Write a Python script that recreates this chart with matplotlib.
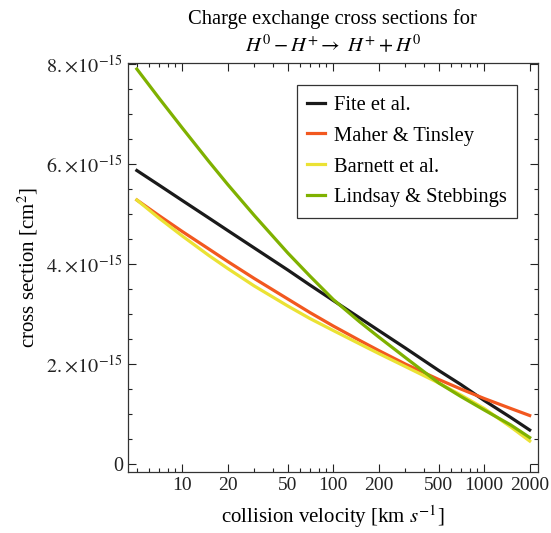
import matplotlib.pyplot as plt
from matplotlib.ticker import FixedLocator, FixedFormatter
import numpy as np

plt.rcParams['font.family'] = ['Liberation Serif', 'DejaVu Serif']
plt.rcParams['mathtext.fontset'] = 'stix'

# collision velocity [km/s]
velocity = [5, 7, 10, 15, 20, 30, 50, 70, 100, 150, 200, 300, 500, 700, 1000, 1500, 2000]
# cross sections in units of 1e-15 cm^2
fite = [5.87, 5.58, 5.27, 4.92, 4.67, 4.32, 3.88, 3.58, 3.27, 2.92, 2.67, 2.32, 1.87, 1.59, 1.27, 0.93, 0.68]
maher = [5.28, 4.97, 4.65, 4.30, 4.05, 3.71, 3.30, 3.03, 2.76, 2.47, 2.27, 2.00, 1.69, 1.50, 1.31, 1.11, 0.97]
barnett = [5.28, 4.92, 4.56, 4.17, 3.91, 3.56, 3.16, 2.91, 2.67, 2.40, 2.21, 1.95, 1.62, 1.38, 1.11, 0.74, 0.46]
lindsay = [7.90, 7.32, 6.72, 6.05, 5.59, 4.97, 4.22, 3.76, 3.29, 2.84, 2.54, 2.13, 1.62, 1.35, 1.08, 0.78, 0.53]

xticks = [10, 20, 50, 100, 200, 500, 1000, 2000]
yticks = [0, 2, 4, 6, 8]
ylabels = ['0', r'$2.\!\times\!10^{-15}$', r'$4.\!\times\!10^{-15}$',
           r'$6.\!\times\!10^{-15}$', r'$8.\!\times\!10^{-15}$']

fig = plt.figure(figsize=(5.51, 5.33), dpi=100)
ax = fig.add_axes([0.2318, 0.1144, 0.7446, 0.7674])

scale = 1e-15
ax.plot(velocity, np.array(fite) * scale, color='#1a1a1a', lw=2.3, label='Fite et al.')
ax.plot(velocity, np.array(maher) * scale, color='#F2581F', lw=2.3, label='Maher & Tinsley')
ax.plot(velocity, np.array(barnett) * scale, color='#EBE234', lw=2.3, label='Barnett et al.')
ax.plot(velocity, np.array(lindsay) * scale, color='#7FB100', lw=2.3, label='Lindsay & Stebbings')

ax.set_xscale('log')
ax.set_xlim(4.35, 2270)
ax.set_ylim(-0.16e-15, 8.02e-15)

# ticks
minor_x = [m * 10 ** e for e in range(0, 4) for m in range(1, 10)
           if m * 10 ** e not in xticks and 4.35 < m * 10 ** e < 2270]
ax.xaxis.set_major_locator(FixedLocator(xticks))
ax.xaxis.set_major_formatter(FixedFormatter([str(t) for t in xticks]))
ax.xaxis.set_minor_locator(FixedLocator(minor_x))
ax.xaxis.set_minor_formatter(FixedFormatter([''] * len(minor_x)))
ax.yaxis.set_major_locator(FixedLocator([t * scale for t in yticks]))
ax.yaxis.set_major_formatter(FixedFormatter(ylabels))
ax.yaxis.set_minor_locator(FixedLocator([t * 0.5 * scale for t in range(0, 17) if t % 4]))
ax.tick_params(which='both', direction='in', top=True, right=True,
               width=0.8, colors='#222222')
ax.tick_params(axis='x', labelsize=14)
ax.tick_params(axis='y', labelsize=14.5)
ax.tick_params(which='major', length=6)
ax.tick_params(which='minor', length=3)
for s in ax.spines.values():
    s.set_linewidth(0.9)
    s.set_color('#333333')

ax.set_xlabel(r'collision velocity [km $s^{-1}$]', fontsize=15, labelpad=7)
ax.set_ylabel(r'cross section [cm$^2$]', fontsize=15, labelpad=4)
ax.set_title('Charge exchange cross sections for\n'
             r'$H^0 - H^{+} \rightarrow\ H^{+} + H^0$', fontsize=14.8, pad=8,
             linespacing=1.35)

leg = ax.legend(loc='upper right', bbox_to_anchor=(0.949, 0.946), fontsize=14.8,
                handlelength=0.85, handletextpad=0.45, labelspacing=0.56,
                fancybox=False, framealpha=1, borderpad=0.5, borderaxespad=0)
leg.get_frame().set_edgecolor('#333333')
leg.get_frame().set_linewidth(0.9)

plt.savefig('out.png', dpi=100)
plt.close()
